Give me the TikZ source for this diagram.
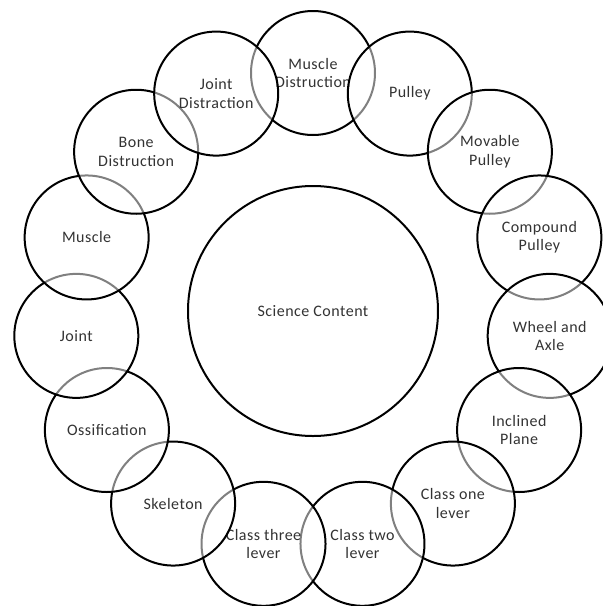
\documentclass[tikz,border=0pt]{standalone}
\usepackage{fontspec}
\setmainfont{Carlito}[LetterSpace=3]
\begin{document}
\begin{tikzpicture}[x=1pt,y=-1pt,
  item/.style={circle,draw=black,line width=2pt,fill=white,fill opacity=0.5,text opacity=1,
    minimum size=124pt,inner sep=0pt,align=center,text=black!80,
    font=\fontsize{16}{18.5}\selectfont},
  hub/.style={circle,draw=black,line width=2pt,fill=white,minimum size=250pt,inner sep=0pt,
    text=black!80,font=\fontsize{16}{18.5}\selectfont}]
\useasboundingbox (0,0) rectangle (603,606);
\fill[white] (0,0) rectangle (603,606);
\node[hub] (c) at (313,311) {Science Content};
\foreach \a/\n/\t in {90/md/{Muscle\\Distruction}, 66/pu/{Pulley}, 42/mp/{Movable\\Pulley},
  18/cp/{Compound\\Pulley}, -6/wa/{Wheel and\\Axle}, -30/ip/{Inclined\\Plane},
  -54/c1/{Class one\\lever}, -78/c2/{Class two\\lever}, -102/c3/{Class three\\lever},
  -126/sk/{Skeleton}, -150/os/{Ossification}, -174/jo/{Joint}, 162/mu/{Muscle},
  138/bd/{Bone\\Distruction}, 114/jd/{Joint\\Distraction}}
{
  \node[item] (\n) at ({313+238*cos(\a)},{311-238*sin(\a)}) {\t};
}
\end{tikzpicture}
\end{document}
